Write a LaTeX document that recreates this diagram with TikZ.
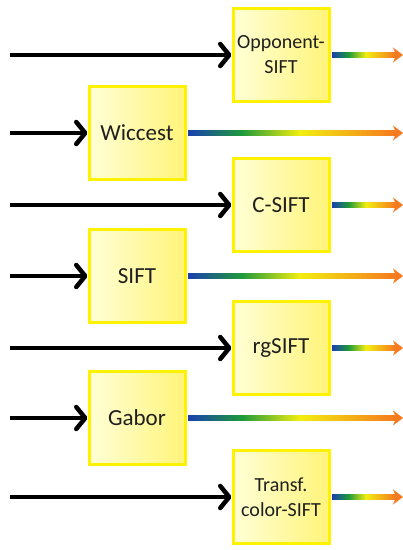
\documentclass[tikz,border=0pt]{standalone}
\usepackage{fontspec}
\setmainfont{Carlito}
\usetikzlibrary{arrows.meta,calc}
\definecolor{boxedge}{HTML}{FFF200}
\definecolor{boxlight}{HTML}{FFFFD6}
\definecolor{boxdark}{HTML}{FFF47A}
\definecolor{specA}{HTML}{1A3FB0}
\definecolor{specB}{HTML}{1E9A3A}
\definecolor{specC}{HTML}{F2EE10}
\definecolor{specD}{HTML}{F57A1E}
% blue -> green -> yellow -> orange, mapped to the 25bp..75bp band TikZ fits to the path
\pgfdeclarehorizontalshading{spectrum}{100bp}{%
  color(0bp)=(specA); color(25bp)=(specA); color(38bp)=(specB);
  color(52bp)=(specC); color(75bp)=(specD); color(100bp)=(specD)}
\tikzset{
  featbox/.style={draw=boxedge, line width=3pt, left color=boxlight, right color=boxdark,
    minimum width=96pt, minimum height=93pt, inner sep=2pt, align=center,
    font=\fontsize{23}{27}\selectfont, text=black!88},
  smalltext/.style={font=\fontsize{20}{25}\selectfont},
  inarrow/.style={line width=4.5pt, black,
    -{Straight Barb[length=9pt, width=22pt, line cap=round, line join=round]}},
  outhead/.style={specD, line width=5pt, -{Stealth[length=10pt, width=15pt]}},
}
\newcommand{\specarrow}[2]{%
  \shade[shading=spectrum] ($(#1.east)+(1.5,-2.5)$) rectangle ($(#2)+(-8,2.5)$);
  \draw[outhead] ($(#2)+(-9,0)$) -- (#2);}
\begin{document}
\begin{tikzpicture}[x=1pt,y=-1pt]
\useasboundingbox (0,0) rectangle (403,550);
\fill[white] (0,0) rectangle (403,550);

% feature boxes
\node[featbox,smalltext] (opp) at (281,55)  {Opponent-\\SIFT};
\node[featbox] (wic) at (137,133) {Wiccest};
\node[featbox] (cs)  at (281,205) {C-SIFT};
\node[featbox] (sif) at (137,276) {SIFT};
\node[featbox] (rg)  at (281,348) {rgSIFT};
\node[featbox] (gab) at (137,418) {Gabor};
\node[featbox,smalltext] (tcs) at (281,497) {Transf.\\color-SIFT};

% input start points
\coordinate (i1) at (10,55);
\coordinate (i2) at (10,133);
\coordinate (i3) at (10,205);
\coordinate (i4) at (10,276);
\coordinate (i5) at (10,348);
\coordinate (i6) at (10,418);
\coordinate (i7) at (10,497);

% output end points
\coordinate (o1) at (403,55);
\coordinate (o2) at (403,133);
\coordinate (o3) at (403,205);
\coordinate (o4) at (403,276);
\coordinate (o5) at (403,348);
\coordinate (o6) at (403,418);
\coordinate (o7) at (403,497);

% inputs
\draw[inarrow] (i1) -- (opp.west);
\draw[inarrow] (i2) -- (wic.west);
\draw[inarrow] (i3) -- (cs.west);
\draw[inarrow] (i4) -- (sif.west);
\draw[inarrow] (i5) -- (rg.west);
\draw[inarrow] (i6) -- (gab.west);
\draw[inarrow] (i7) -- (tcs.west);

% outputs
\specarrow{opp}{o1}
\specarrow{wic}{o2}
\specarrow{cs}{o3}
\specarrow{sif}{o4}
\specarrow{rg}{o5}
\specarrow{gab}{o6}
\specarrow{tcs}{o7}
\end{tikzpicture}
\end{document}
